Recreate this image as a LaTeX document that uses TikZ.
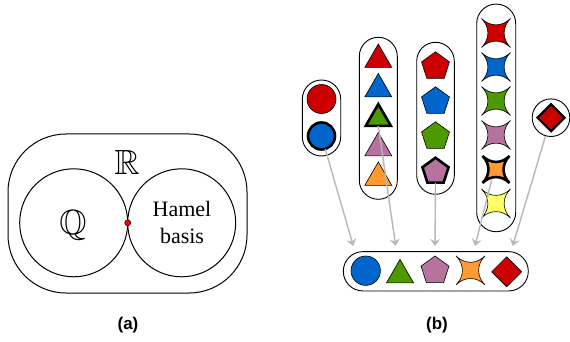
\documentclass[tikz,border=0pt]{standalone}
\usepackage{fontspec}
\usepackage{amssymb}
\setmainfont{Liberation Serif}
\setsansfont{Liberation Sans}
\usetikzlibrary{shapes.geometric,arrows.meta,calc}
\definecolor{cred}{HTML}{CC0000}
\definecolor{cblue}{HTML}{0066CC}
\definecolor{cgreen}{HTML}{4D9900}
\definecolor{cpink}{HTML}{B5739D}
\definecolor{corange}{HTML}{FF9933}
\definecolor{cyellow}{HTML}{FFFF66}
\definecolor{arrgray}{HTML}{B8B8B8}
\tikzset{
  setline/.style={draw=black, line width=1pt},
  capsule/.style={draw=black, line width=0.9pt, rectangle, inner sep=0pt},
  shp/.style={draw=black, line width=0.6pt, inner sep=0pt, outer sep=0pt},
  thickshp/.style={draw=black, line width=2.6pt, inner sep=0pt, outer sep=0pt},
  dot/.style={shp, circle, minimum size=29pt},
  tri/.style={regular polygon, regular polygon sides=3, minimum size=31.2pt},
  penta/.style={regular polygon, regular polygon sides=5, minimum size=29.4pt},
  dia/.style={diamond, minimum width=28pt, minimum height=28pt},
  arr/.style={draw=arrgray, line width=1.4pt, -{Stealth[length=7pt,width=10pt,inset=2.5pt]}},
  lab/.style={font=\fontsize{17}{17}\selectfont\sffamily\bfseries},
  fourstar/.pic={\path[pic actions] (-14.5,-14.5) .. controls (-6,-6) and (6,-6) .. (14.5,-14.5)
     .. controls (6,-6) and (6,6) .. (14.5,14.5)
     .. controls (6,6) and (-6,6) .. (-14.5,14.5)
     .. controls (-6,6) and (-6,-6) .. cycle;}
}
\begin{document}
\begin{tikzpicture}[x=1pt,y=-1pt]
\useasboundingbox (0,0) rectangle (570,342);
\fill[white] (0,0) rectangle (570,342);

% ---------- panel (a)
\node[setline, rectangle, rounded corners=58pt, minimum width=239pt, minimum height=159pt] (R) at (127.5,213.5) {};
\node[setline, circle, minimum size=108pt, inner sep=0pt] (Qc) at (73.7,222.8) {};
\node[setline, circle, minimum size=108pt, inner sep=0pt] (Hc) at (181.7,222.8) {};
\node[draw=black, line width=0.5pt, fill=red, circle, minimum size=6pt, inner sep=0pt] (pt) at (127.7,222.8) {};
\node (Rl) at (127,162) {\fontsize{35}{35}\selectfont$\mathbb{R}$};
\node (Ql) at (73,225) {\fontsize{35}{35}\selectfont$\mathbb{Q}$};
\node[align=center, font=\fontsize{22}{27}\selectfont] (Hl) at (182,222) {Hamel\\basis};
\node[lab] (la) at (128,325) {(a)};

% ---------- panel (b): groups
\node[capsule, minimum width=38.4pt, minimum height=76pt, rounded corners=19.2pt] (G1) at (321.5,118) {};
\node[capsule, minimum width=38pt, minimum height=162pt, rounded corners=19pt] (G2) at (378.3,118.3) {};
\node[capsule, minimum width=37.6pt, minimum height=152pt, rounded corners=18.8pt] (G3) at (435.5,118.3) {};
\node[capsule, minimum width=39pt, minimum height=227.7pt, rounded corners=19.5pt] (G4) at (496.2,117.9) {};
\node[capsule, circle, minimum size=37.6pt] (G5) at (551,117.7) {};
\node[capsule, minimum width=185pt, minimum height=39.3pt, rounded corners=19.6pt] (B) at (435.8,271.3) {};

% circles
\node[dot, fill=cred] (c1) at (321.5,99) {};
\node[dot, thickshp, fill=cblue, minimum size=27pt] (c2) at (321.5,136) {};

% triangles
\node[shp, tri, fill=cred] (t1) at (378.3,59.6) {};
\node[shp, tri, fill=cblue] (t2) at (378.3,89.1) {};
\node[thickshp, tri, fill=cgreen, minimum size=29pt] (t3) at (378.3,118.6) {};
\node[shp, tri, fill=cpink] (t4) at (378.3,148.1) {};
\node[shp, tri, fill=corange] (t5) at (378.3,177.6) {};

% pentagons
\node[shp, penta, fill=cred] (p1) at (435.5,66.5) {};
\node[shp, penta, fill=cblue] (p2) at (435.5,101.5) {};
\node[shp, penta, fill=cgreen] (p3) at (435.5,136.5) {};
\node[thickshp, penta, fill=cpink, minimum size=27.5pt] (p4) at (435.5,171.5) {};

% stars
\coordinate (s1) at (496,33);
\coordinate (s2) at (496,67);
\coordinate (s3) at (496,101);
\coordinate (s4) at (496,135);
\coordinate (s5) at (496,169.5);
\coordinate (s6) at (496,203.5);
\pic[fill=cred, draw=black, line width=0.6pt] at (s1) {fourstar};
\pic[fill=cblue, draw=black, line width=0.6pt] at (s2) {fourstar};
\pic[fill=cgreen, draw=black, line width=0.6pt] at (s3) {fourstar};
\pic[fill=cpink, draw=black, line width=0.6pt] at (s4) {fourstar};
\pic[fill=corange, draw=black, line width=2.6pt, scale=0.93] at (s5) {fourstar};
\pic[fill=cyellow, draw=black, line width=0.6pt] at (s6) {fourstar};

% diamond
\node[thickshp, dia, fill=cred, minimum width=27pt, minimum height=27pt, line width=2.2pt] (d5) at (551,117.7) {};

% bottom selection
\node[dot, fill=cblue, minimum size=29.4pt] (bc) at (365.7,270.7) {};
\node[shp, tri, fill=cgreen] (bt) at (400,275) {};
\node[shp, penta, fill=cpink] (bp) at (435,270.7) {};
\coordinate (bs) at (470.5,270.4);
\pic[fill=corange, draw=black, line width=0.6pt] at (bs) {fourstar};
\node[shp, dia, fill=cred, minimum width=30pt, minimum height=30pt] (bd) at (506.7,271.8) {};

% arrows
\coordinate (e1) at (353.3,246);
\coordinate (e2) at (395.7,246);
\coordinate (e3) at (435,246);
\coordinate (e4) at (475,246);
\coordinate (e5) at (512.7,246);
\coordinate (st5) at (491.7,180);
\draw[arr] (c2) -- (e1);
\draw[arr] (t3.south) -- (e2);
\draw[arr] (p4.south) -- (e3);
\draw[arr] (st5) -- (e4);
\draw[arr] (G5) -- (e5);

\node[lab] (lb) at (437,325) {(b)};
\end{tikzpicture}
\end{document}
